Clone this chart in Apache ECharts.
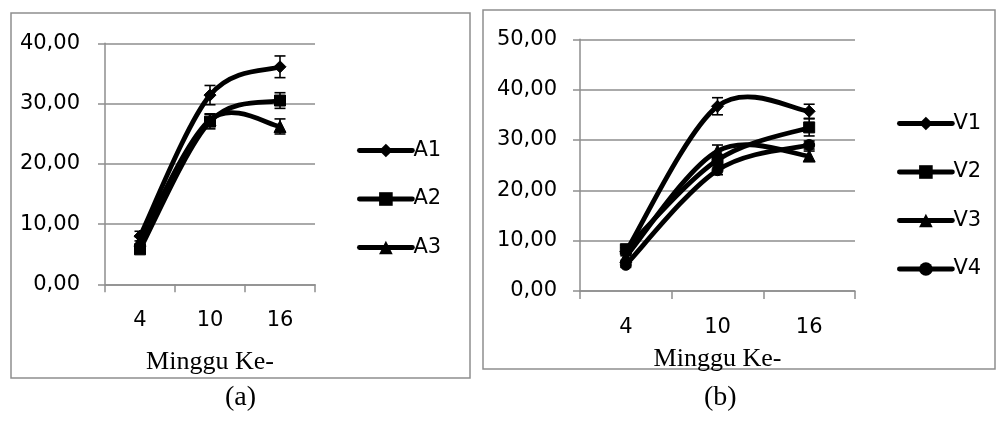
<!DOCTYPE html>
<html>
<head>
<meta charset="utf-8">
<script src="https://cdn.jsdelivr.net/npm/echarts@6/dist/echarts.min.js"></script>
<style>
  html, body { margin: 0; padding: 0; background: #fff; }
  #chart { width: 996px; height: 421px; }
</style>
</head>
<body>
<div id="chart"></div>
<script>
// Week numbers on the horizontal axis
const weeks = ['4', '10', '16'];

// Panel (a): treatments A1–A3, means and error bar half-widths
const a1 = [8.0, 31.4, 36.1];
const a1Err = [0.8, 1.6, 1.8];
const a2 = [5.8, 27.0, 30.5];
const a2Err = [0.6, 1.2, 1.3];
const a3 = [7.3, 27.3, 26.2];
const a3Err = [0.6, 1.0, 1.25];

// Panel (b): treatments V1–V4
const v1 = [7.8, 36.7, 35.7];
const v1Err = [0.8, 1.7, 1.4];
const v2 = [8.3, 26.0, 32.5];
const v2Err = [0.8, 1.0, 1.7];
const v3 = [6.8, 27.8, 26.8];
const v3Err = [0.7, 1.2, 1.0];
const v4 = [5.2, 24.0, 29.0];
const v4Err = [0.5, 0.9, 0.8];

const namesA = ['A1', 'A2', 'A3'];
const namesB = ['V1', 'V2', 'V3', 'V4'];

const GRID_GRAY = '#8e8e8e';
const SANS = 'DejaVu Sans';
const SERIF = 'Liberation Serif';
const LINE_W = 4.8;

const fmt = v => v.toFixed(2).replace('.', ',');

// Markers only; the connecting curve is drawn by curveSeries below
function markerSeries(name, values, symbol, size, axis) {
  return {
    name: name,
    type: 'line',
    xAxisIndex: axis,
    yAxisIndex: axis,
    data: values,
    symbol: symbol,
    symbolSize: size,
    lineStyle: { opacity: 0 },
    itemStyle: { color: '#000', borderColor: '#000' },
    emphasis: { disabled: true },
    z: 3
  };
}

// Cardinal (Catmull-Rom, tension 1/6) spline through the category points,
// one bezier segment per data item, positioned with api.coord.
function curveSeries(name, values, axis) {
  const n = values.length;
  const segs = [];
  for (let i = 0; i < n - 1; i++) {
    const pi = i > 0 ? i - 1 : i;
    const ni = i + 2 < n ? i + 2 : i + 1;
    segs.push([i, values[i], values[i + 1], values[pi], values[ni], pi, ni]);
  }
  return {
    name: name + ' curve',
    type: 'custom',
    xAxisIndex: axis,
    yAxisIndex: axis,
    data: segs,
    encode: { x: 0, y: 1 },
    renderItem: function (params, api) {
      const i = api.value(0);
      const p1 = api.coord([i, api.value(1)]);
      const p2 = api.coord([i + 1, api.value(2)]);
      const p0 = api.coord([api.value(5), api.value(3)]);
      const p3 = api.coord([api.value(6), api.value(4)]);
      return {
        type: 'bezierCurve',
        shape: {
          x1: p1[0], y1: p1[1],
          x2: p2[0], y2: p2[1],
          cpx1: p1[0] + (p2[0] - p0[0]) / 6, cpy1: p1[1] + (p2[1] - p0[1]) / 6,
          cpx2: p2[0] - (p3[0] - p1[0]) / 6, cpy2: p2[1] - (p3[1] - p1[1]) / 6
        },
        style: { stroke: '#000', lineWidth: LINE_W, lineCap: 'round', fill: null }
      };
    },
    silent: true,
    z: 2
  };
}

function errorSeries(name, values, errs, axis) {
  return {
    name: name + ' err',
    type: 'custom',
    xAxisIndex: axis,
    yAxisIndex: axis,
    data: values.map((v, i) => [i, v - errs[i], v + errs[i]]),
    renderItem: function (params, api) {
      const lo = api.coord([api.value(0), api.value(1)]);
      const hi = api.coord([api.value(0), api.value(2)]);
      const half = 5.5;
      const st = { stroke: '#000', lineWidth: 1.6 };
      return {
        type: 'group',
        children: [
          { type: 'line', shape: { x1: hi[0], y1: hi[1], x2: lo[0], y2: lo[1] }, style: st },
          { type: 'line', shape: { x1: hi[0] - half, y1: hi[1], x2: hi[0] + half, y2: hi[1] }, style: st },
          { type: 'line', shape: { x1: lo[0] - half, y1: lo[1], x2: lo[0] + half, y2: lo[1] }, style: st }
        ]
      };
    },
    silent: true,
    z: 4
  };
}

function xAxisDef(gridIndex, labelMargin, nameGap) {
  return {
    type: 'category',
    gridIndex: gridIndex,
    data: weeks,
    boundaryGap: true,
    name: 'Minggu Ke-',
    nameLocation: 'middle',
    nameGap: nameGap,
    nameTextStyle: { fontFamily: SERIF, fontSize: 26, color: '#000' },
    axisLine: { lineStyle: { color: GRID_GRAY, width: 1.5 } },
    axisTick: { show: true, length: 8, lineStyle: { color: GRID_GRAY, width: 1.5 } },
    axisLabel: { fontFamily: SANS, fontSize: 21, color: '#000', margin: labelMargin },
    splitLine: { show: false }
  };
}

function yAxisDef(gridIndex, max, labelMargin) {
  return {
    type: 'value',
    gridIndex: gridIndex,
    min: 0,
    max: max,
    interval: 10,
    axisLine: { show: true, lineStyle: { color: GRID_GRAY, width: 1.5 } },
    axisTick: { show: true, length: 7, lineStyle: { color: GRID_GRAY, width: 1.5 } },
    axisLabel: { fontFamily: SANS, fontSize: 21, color: '#000', margin: labelMargin, formatter: fmt },
    splitLine: { show: true, lineStyle: { color: GRID_GRAY, width: 1.5 } }
  };
}

function legendDef(names, left, top) {
  return {
    data: names,
    orient: 'vertical',
    left: left,
    top: top,
    itemWidth: 53,
    itemHeight: 17,
    itemGap: 27.5,
    lineStyle: { color: '#000', width: LINE_W, opacity: 1, cap: 'round' },
    itemStyle: { color: '#000', borderColor: '#000' },
    textStyle: { fontFamily: SANS, fontSize: 21, color: '#000', padding: [0, 0, 0, -4] },
    selectedMode: false
  };
}

const chart = echarts.init(document.getElementById('chart'), null, { renderer: 'canvas' });

chart.setOption({
  animation: false,
  backgroundColor: '#fff',
  grid: [
    { left: 105, top: 43.3, width: 210, height: 241 },
    { left: 580, top: 39.3, width: 275, height: 251.7 }
  ],
  xAxis: [xAxisDef(0, 26, 65), xAxisDef(1, 26, 55)],
  yAxis: [yAxisDef(0, 40, 25), yAxisDef(1, 50, 23)],
  legend: [legendDef(namesA, 352, 135), legendDef(namesB, 892, 108)],
  graphic: [
    { type: 'rect', shape: { x: 11, y: 13, width: 459, height: 365 },
      style: { fill: 'none', stroke: GRID_GRAY, lineWidth: 1.5 }, silent: true },
    { type: 'rect', shape: { x: 483, y: 10, width: 512, height: 359 },
      style: { fill: 'none', stroke: GRID_GRAY, lineWidth: 1.5 }, silent: true },
    { type: 'text', left: 225, top: 384,
      style: { text: '(a)', font: '28px "Liberation Serif"', fill: '#000' } },
    { type: 'text', left: 704, top: 384,
      style: { text: '(b)', font: '28px "Liberation Serif"', fill: '#000' } }
  ],
  series: [
    curveSeries('A1', a1, 0),
    curveSeries('A2', a2, 0),
    curveSeries('A3', a3, 0),
    markerSeries('A1', a1, 'diamond', 12, 0),
    markerSeries('A2', a2, 'rect', 11, 0),
    markerSeries('A3', a3, 'triangle', 12, 0),
    errorSeries('A1', a1, a1Err, 0),
    errorSeries('A2', a2, a2Err, 0),
    errorSeries('A3', a3, a3Err, 0),
    curveSeries('V1', v1, 1),
    curveSeries('V2', v2, 1),
    curveSeries('V3', v3, 1),
    curveSeries('V4', v4, 1),
    markerSeries('V1', v1, 'diamond', 12, 1),
    markerSeries('V2', v2, 'rect', 11, 1),
    markerSeries('V3', v3, 'triangle', 12, 1),
    markerSeries('V4', v4, 'circle', 11, 1),
    errorSeries('V1', v1, v1Err, 1),
    errorSeries('V2', v2, v2Err, 1),
    errorSeries('V3', v3, v3Err, 1),
    errorSeries('V4', v4, v4Err, 1)
  ]
});
</script>
</body>
</html>
